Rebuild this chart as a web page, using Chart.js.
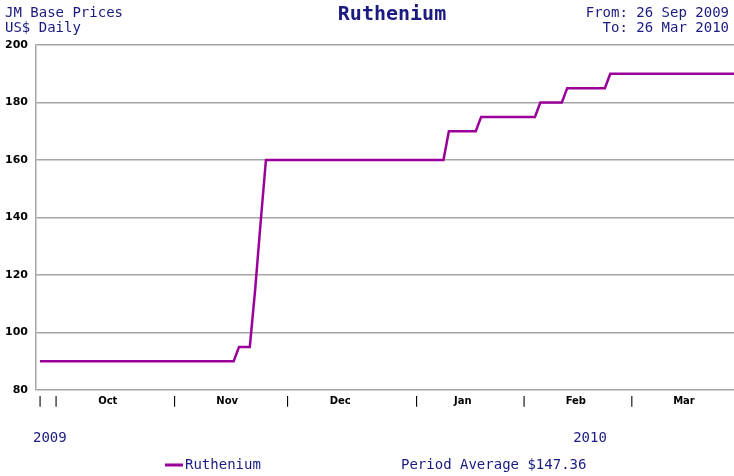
<!DOCTYPE html>
<html lang="en">
<head>
    <meta charset="UTF-8">
    <title>Ruthenium - JM Base Prices</title>
    <script src="https://cdn.jsdelivr.net/npm/chart.js"></script>
    <style>
        body { margin: 0; background: #ffffff; }
        .chart-box { position: relative; width: 734px; height: 476px; }
    </style>
</head>
<body>
<div class="chart-box">
    <canvas id="priceChart"></canvas>
</div>
<script>
    // Daily (trading day) base prices, US$, 28 Sep 2009 .. 26 Mar 2010
    const prices = [
        90, 90, 90, 90, 90, 90, 90, 90, 90, 90,
        90, 90, 90, 90, 90, 90, 90, 90, 90, 90,
        90, 90, 90, 90, 90, 90, 90, 90, 90, 90,
        90, 90, 90, 90, 90, 90, 90, 95, 95, 95,
        115, 138, 160, 160, 160, 160, 160, 160, 160, 160,
        160, 160, 160, 160, 160, 160, 160, 160, 160, 160,
        160, 160, 160, 160, 160, 160, 160, 160, 160, 160,
        160, 160, 160, 160, 160, 160, 170, 170, 170, 170,
        170, 170, 175, 175, 175, 175, 175, 175, 175, 175,
        175, 175, 175, 180, 180, 180, 180, 180, 185, 185,
        185, 185, 185, 185, 185, 185, 190, 190, 190, 190,
        190, 190, 190, 190, 190, 190, 190, 190, 190, 190,
        190, 190, 190, 190, 190, 190, 190, 190, 190, 190
    ];

    // x axis: separators at month starts (trading day index), month names between them
    const separatorDays = [0, 3, 25, 46, 70, 90, 110];
    const monthLabels = ['Oct', 'Nov', 'Dec', 'Jan', 'Feb', 'Mar'];
    const monthLabelDays = [12.6, 34.8, 55.8, 78.6, 99.6, 119.7];
    const yearLabels = ['2009', '2010'];
    const yearLabelDays = [-1.3, 99.1];

    const yTicks = [80, 100, 120, 140, 160, 180, 200];

    const seriesName = 'Ruthenium';
    const averageText = 'Period Average $147.36';

    const navy = '#1a1a80';
    const purple = '#990099';
    const mono = '"DejaVu Sans Mono", monospace';

    // Header, year labels and legend drawn on the canvas
    const textPlugin = {
        id: 'textPlugin',
        afterDraw(chart) {
            const ctx = chart.ctx;
            const xs = chart.scales.x;
            ctx.save();
            ctx.fillStyle = navy;
            ctx.textBaseline = 'middle';

            ctx.font = '14px ' + mono;
            ctx.textAlign = 'left';
            ctx.fillText('JM Base Prices', 5, 13);
            ctx.fillText('US$ Daily', 5, 28);

            ctx.textAlign = 'right';
            ctx.fillText('From: 26 Sep 2009', 729, 13);
            ctx.fillText('To: 26 Mar 2010', 729, 28);

            ctx.font = 'bold 20px ' + mono;
            ctx.textAlign = 'center';
            ctx.fillText(seriesName, 392, 15);

            // year labels
            ctx.font = '14px ' + mono;
            ctx.textAlign = 'left';
            yearLabels.forEach((y, i) => {
                ctx.fillText(y, xs.getPixelForValue(yearLabelDays[i]), 438);
            });

            // legend
            ctx.strokeStyle = purple;
            ctx.lineWidth = 3;
            ctx.beginPath();
            ctx.moveTo(165, 465);
            ctx.lineTo(183, 465);
            ctx.stroke();
            ctx.fillText(seriesName, 185, 465);
            ctx.fillText(averageText, 401, 465);
            ctx.restore();
        }
    };

    const ctx = document.getElementById('priceChart').getContext('2d');
    new Chart(ctx, {
        type: 'line',
        data: {
            datasets: [{
                label: seriesName,
                data: prices.map((v, i) => ({ x: i, y: v })),
                borderColor: purple,
                borderWidth: 2.5,
                pointRadius: 0,
                tension: 0,
                fill: false
            }]
        },
        options: {
            responsive: true,
            maintainAspectRatio: false,
            animation: false,
            layout: { padding: { top: 45, left: 0, right: 0, bottom: 0 } },
            plugins: {
                legend: { display: false },
                tooltip: { enabled: false }
            },
            scales: {
                x: {
                    type: 'linear',
                    min: -0.74,
                    max: 129,
                    grid: { display: false, drawTicks: false },
                    border: { display: false },
                    afterBuildTicks: (scale) => {
                        const t = separatorDays.map(v => ({ value: v }));
                        monthLabelDays.forEach(v => t.push({ value: v }));
                        scale.ticks = t.sort((a, b) => a.value - b.value);
                    },
                    afterFit: (scale) => { scale.height = 86; },
                    ticks: {
                        autoSkip: false,
                        maxRotation: 0,
                        padding: 5,
                        color: '#000000',
                        font: { family: 'DejaVu Sans', size: 10, weight: 'bold' },
                        callback: (value) => {
                            const m = monthLabelDays.indexOf(value);
                            if (m >= 0) return monthLabels[m];
                            return separatorDays.includes(value) ? '|' : '';
                        }
                    }
                },
                y: {
                    min: 80,
                    max: 200,
                    afterBuildTicks: (scale) => {
                        scale.ticks = yTicks.map(v => ({ value: v }));
                    },
                    afterFit: (scale) => { scale.width = 36; },
                    grid: { color: '#a6a6a6', lineWidth: 1.5, drawTicks: false },
                    border: { color: '#a6a6a6', width: 1.5 },
                    ticks: {
                        padding: 8,
                        color: '#000000',
                        font: { family: 'DejaVu Sans', size: 11, weight: 'bold' }
                    }
                }
            }
        },
        plugins: [textPlugin]
    });
</script>
</body>
</html>
